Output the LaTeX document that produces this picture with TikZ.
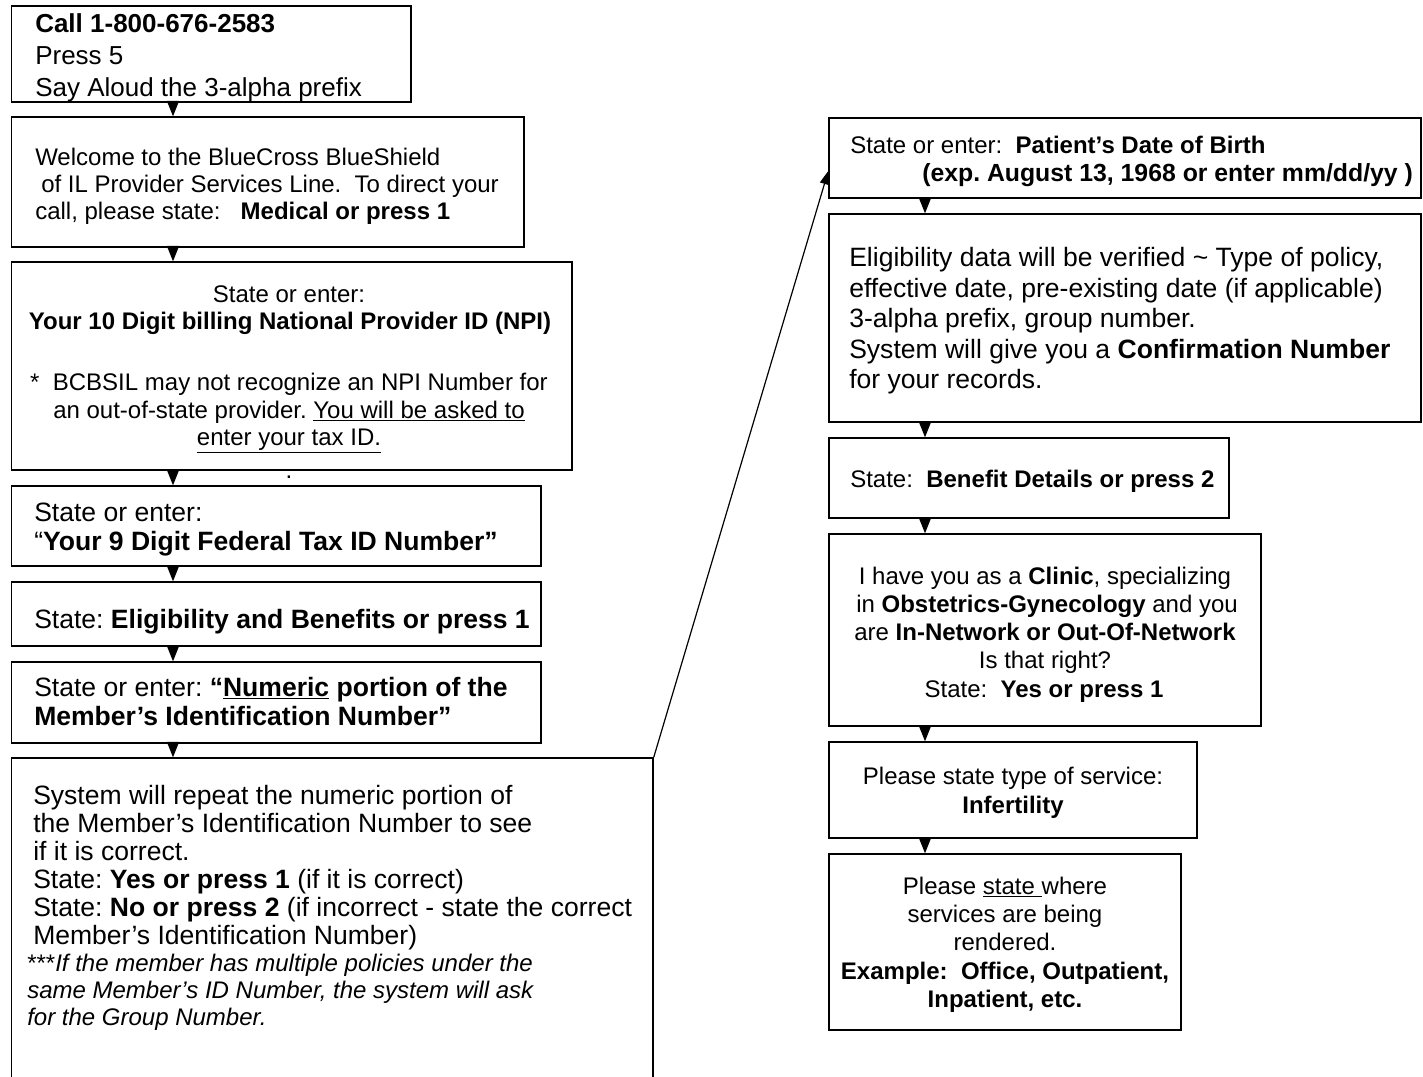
\documentclass[tikz,border=0pt]{standalone}
\usepackage{fontspec}
\setmainfont{Liberation Sans}
\usetikzlibrary{arrows.meta,fit}
\frenchspacing
\newcommand\fsA{\fontsize{18pt}{21pt}\selectfont}
\newcommand\fsAA{\fontsize{18.6pt}{21pt}\selectfont}
\newcommand\fsB{\fontsize{19.9pt}{23pt}\selectfont}
\newcommand\fsC{\fontsize{19.5pt}{23pt}\selectfont}
\begin{document}
\begin{tikzpicture}[x=0.75pt,y=-0.75pt,
  box/.style={draw=black, line width=1.1pt, inner sep=0pt, fill=none},
  txt/.style={inner sep=0pt, anchor=base west},
  ctr/.style={inner sep=0pt, anchor=base},
  arr/.style={-{Triangle[width=9pt,length=11.5pt]}, line width=0.8pt},
  link/.style={-{Triangle[width=7pt,length=10pt]}, line width=0.9pt}]
\useasboundingbox (0,0) rectangle (1423,1076);
\fill[white] (0,0) rectangle (1423,1076);
\coordinate (colL) at (173,0);
\coordinate (colR) at (925,0);
% left column boxes
\node[box, fit={(11.5,6) (411,102)}] (b1) {};
\node[box, fit={(11.5,117) (524,247)}] (b2) {};
\node[box, fit={(11.5,262) (572,470)}] (b3) {};
\node[box, fit={(11.5,486) (541,566)}] (b4) {};
\node[box, fit={(11.5,582) (541,646)}] (b5) {};
\node[box, fit={(11.5,662) (541,743)}] (b6) {};
\node[box, fit={(11.5,758) (653,1100)}] (b7) {};
% right column boxes
\node[box, fit={(829,118) (1421,198)}] (b8) {};
\node[box, fit={(829,214) (1421,422)}] (b9) {};
\node[box, fit={(829,438) (1229,518)}] (b10) {};
\node[box, fit={(829,534) (1261,726)}] (b11) {};
\node[box, fit={(829,742) (1197,838)}] (b12) {};
\node[box, fit={(829,854) (1181,1030)}] (b13) {};
% texts box 1
\node[txt, font=\fsC] (t1a) at (35,32) {\textbf{Call 1-800-676-2583}};
\node[txt, font=\fsC] (t1b) at (35,64) {Press 5};
\node[txt, font=\fsC] (t1c) at (35,96) {Say Aloud the 3-alpha prefix};
% box 2
\node[txt, font=\fsA] (t2a) at (35,165) {Welcome to the BlueCross BlueShield};
\node[txt, font=\fsA] (t2b) at (41,192) {of IL Provider Services Line.\ \ To direct your};
\node[txt, font=\fsA] (t2c) at (35,219.5) {call, please state:\ \ \ \textbf{Medical or press 1}};
% box 3
\node[ctr, font=\fsA] (t3a) at (289,302.5) {State or enter:};
\node[ctr, font=\fsA] (t3b) at (290,329.5) {\textbf{Your 10 Digit billing National Provider ID (NPI)}};
\node[ctr, font=\fsA] (t3c) at (289,390.5) {*\ \ BCBSIL may not recognize an NPI Number for};
\node[ctr, font=\fsA] (t3d) at (289,418) {an out-of-state provider. \underline{You will be asked to}};
\node[ctr, font=\fsA] (t3e) at (289,445.5) {\underline{enter your tax ID.}};
\node[ctr, font=\fsA] (dot) at (289,478) {.};
% box 4
\node[txt, font=\fsB] (t4a) at (34,521) {State or enter:};
\node[txt, font=\fsB] (t4b) at (34,550) {“\textbf{Your 9 Digit Federal Tax ID Number”}};
% box 5
\node[txt, font=\fsB] (t5a) at (34,628) {State: \textbf{Eligibility and Benefits or press 1}};
% box 6
\node[txt, font=\fsB] (t6a) at (34,696) {State or enter: \textbf{“\underline{Numeric} portion of the}};
\node[txt, font=\fsB] (t6b) at (34,725) {\textbf{Member’s Identification Number”}};
% box 7
\node[txt, font=\fsB] (t7a) at (33,804) {System will repeat the numeric portion of};
\node[txt, font=\fsB] (t7b) at (33,832) {the Member’s Identification Number to see};
\node[txt, font=\fsB] (t7c) at (33,860) {if it is correct.};
\node[txt, font=\fsB] (t7d) at (33,888) {State: \textbf{Yes or press 1} (if it is correct)};
\node[txt, font=\fsB] (t7e) at (33,916) {State: \textbf{No or press 2} (if incorrect - state the correct};
\node[txt, font=\fsB] (t7f) at (33,944) {Member’s Identification Number)};
\node[txt, font=\fsA] (t7g) at (27,971.5) {***\textit{If the member has multiple policies under the}};
\node[txt, font=\fsA] (t7h) at (27,998.5) {\textit{same Member’s ID Number, the system will ask}};
\node[txt, font=\fsA] (t7i) at (27,1025.5) {\textit{for the Group Number.}};
% box 8
\node[txt, font=\fsA] (t8a) at (850,153) {State or enter:\ \ \textbf{Patient’s Date of Birth}};
\node[txt, font=\fsAA] (t8b) at (922,181) {\textbf{(exp. August 13, 1968 or enter mm/dd/yy )}};
% box 9
\node[txt, font=\fsB] (t9a) at (849,266.7) {Eligibility data will be verified \textasciitilde{} Type of policy,};
\node[txt, font=\fsB] (t9b) at (849,297.2) {effective date, pre-existing date (if applicable)};
\node[txt, font=\fsB] (t9c) at (849,327.7) {3-alpha prefix, group number.};
\node[txt, font=\fsB] (t9d) at (849,358.2) {System will give you a \textbf{Confirmation Number}};
\node[txt, font=\fsB] (t9e) at (849,388.7) {for your records.};
% box 10
\node[txt, font=\fsA] (t10a) at (850,487) {State:\ \ \textbf{Benefit Details or press 2}};
% box 11
\node[ctr, font=\fsA] (t11a) at (1045,584) {I have you as a \textbf{Clinic}, specializing};
\node[ctr, font=\fsA] (t11b) at (1047,612) {in \textbf{Obstetrics-Gynecology} and you};
\node[ctr, font=\fsA] (t11c) at (1045,640) {are \textbf{In-Network or Out-Of-Network}};
\node[ctr, font=\fsA] (t11d) at (1045,668.5) {Is that right?};
\node[ctr, font=\fsA] (t11e) at (1044,697) {State:\ \ \textbf{Yes or press 1}};
% box 12
\node[ctr, font=\fsA] (t12a) at (1013,784.5) {Please state type of service:};
\node[ctr, font=\fsA] (t12b) at (1013,813) {\textbf{Infertility}};
% box 13
\node[ctr, font=\fsA] (t13a) at (1005,894.5) {Please \underline{state }where};
\node[ctr, font=\fsA] (t13b) at (1005,922.5) {services are being};
\node[ctr, font=\fsA] (t13c) at (1005,950.5) {rendered.};
\node[ctr, font=\fsA] (t13d) at (1005,979) {\textbf{Example:\ \ Office, Outpatient,}};
\node[ctr, font=\fsA] (t13e) at (1005,1007) {\textbf{Inpatient, etc.}};
% arrows left
\draw[arr] (b1.south -| colL) -- (b2.north -| colL);
\draw[arr] (b2.south -| colL) -- (b3.north -| colL);
\draw[arr] (b3.south -| colL) -- (b4.north -| colL);
\draw[arr] (b4.south -| colL) -- (b5.north -| colL);
\draw[arr] (b5.south -| colL) -- (b6.north -| colL);
\draw[arr] (b6.south -| colL) -- (b7.north -| colL);
% arrows right
\draw[arr] (b8.south -| colR) -- (b9.north -| colR);
\draw[arr] (b9.south -| colR) -- (b10.north -| colR);
\draw[arr] (b10.south -| colR) -- (b11.north -| colR);
\draw[arr] (b11.south -| colR) -- (b12.north -| colR);
\draw[arr] (b12.south -| colR) -- (b13.north -| colR);
% link
\draw[link] (b7.north east) -- ([yshift=-9.75pt]b8.west);
\end{tikzpicture}
\end{document}
